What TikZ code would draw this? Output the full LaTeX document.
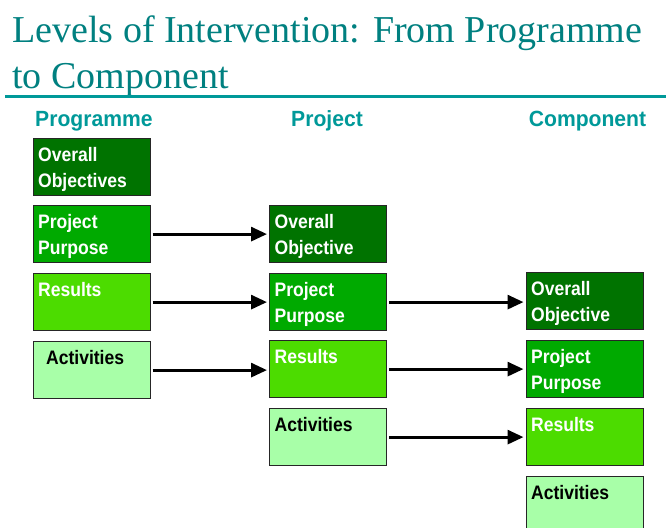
\documentclass[tikz,border=0pt]{standalone}
\usepackage{fontspec}
\setmainfont{Liberation Serif}
\newfontfamily\narrowsf[FakeStretch=0.9]{Liberation Sans}
\newfontfamily\headsf[FakeStretch=0.96]{Liberation Sans}
\usepackage{xcolor}
\definecolor{turquesa}{RGB}{0, 128, 128}
\definecolor{turquesaClaro}{RGB}{0, 153, 153}
\definecolor{verdeOscuro}{RGB}{0, 115, 0}
\definecolor{verde}{RGB}{0, 170, 0}
\definecolor{verdeClaro}{RGB}{76, 220, 0}
\definecolor{verdePalido}{RGB}{168, 255, 168}
\usetikzlibrary{arrows.meta}
\tikzstyle{flecha}=[shorten <=2pt, shorten >=2pt,
                    -{Triangle[length=16pt,width=14pt]}, line width=3pt]
\tikzstyle{caja}=[draw=black!85, line width=1.2pt, anchor=north west,
                  inner xsep=5pt, inner ysep=3pt, text width=107pt,
                  text height=20pt, text depth=31pt, align=left,
                  font={\narrowsf\bfseries\fontsize{19.5}{26}\selectfont},
                  text=white]
\tikzstyle{cabecera}=[inner sep=0pt, text=turquesaClaro,
                  font={\headsf\bfseries\fontsize{22}{26}\selectfont}]

\begin{document}
\begin{tikzpicture}[x=1pt,y=-1pt]
    \clip (0,0) rectangle (666,527);

    \node (titulo) [anchor=base west, align=left, inner sep=0pt, text=turquesa,
          font={\fontsize{38}{45}\selectfont}] at (12,88)
          {Levels of Intervention: From Programme\\to Component};
    \coordinate (r1) at (5,96.5);
    \coordinate (r2) at (666,96.5);
    \draw [turquesaClaro, line width=3pt] (r1) -- (r2);

    \node (hPrg) [cabecera, anchor=base west] at (35,126.5) {Programme};
    \node (hPro) [cabecera, anchor=base] at (327,126.5) {Project};
    \node (hCom) [cabecera, anchor=base] at (587.5,126.5) {Component};

    % programme
    \node (prg1) [caja,fill=verdeOscuro] at (32.5,138) {Overall\\Objectives};
    \node (prg2) [caja,fill=verde] at (32.5,205) {Project\\Purpose};
    \node (prg3) [caja,fill=verdeClaro] at (32.5,273) {Results};
    \node (prg4) [caja,fill=verdePalido,text=black] at (32.5,341) {\hspace*{8pt}Activities};

    % project
    \node (pro1) [caja,fill=verdeOscuro] at (269,205) {Overall\\Objective};
    \node (pro2) [caja,fill=verde] at (269,273) {Project\\Purpose};
    \node (pro3) [caja,fill=verdeClaro] at (269,340) {Results};
    \node (pro4) [caja,fill=verdePalido,text=black] at (269,408) {Activities};

    % component
    \node (com1) [caja,fill=verdeOscuro] at (525.5,272) {Overall\\Objective};
    \node (com2) [caja,fill=verde] at (525.5,340) {Project\\Purpose};
    \node (com3) [caja,fill=verdeClaro] at (525.5,408) {Results};
    \node (com4) [caja,fill=verdePalido,text=black] at (525.5,476) {Activities};

    \foreach \i/\j in {prg2/pro1,prg3/pro2,prg4/pro3,pro2/com1,pro3/com2,pro4/com3}
        \draw [flecha] (\i.east) to (\i.east -| \j.west);

\end{tikzpicture}
\end{document}
